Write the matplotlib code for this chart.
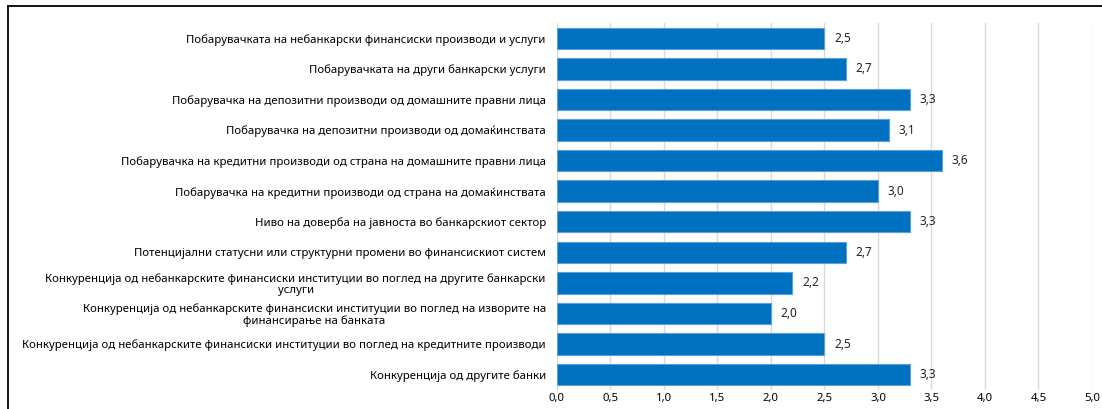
import matplotlib.pyplot as plt
from matplotlib.lines import Line2D
from matplotlib.ticker import FuncFormatter

plt.rcParams['font.family'] = ['Noto Sans', 'DejaVu Sans']

# фактори, од горе надолу
kategorii = [
    'Побарувачката на небанкарски финансиски производи и услуги',
    'Побарувачката на други банкарски услуги',
    'Побарувачка на депозитни производи од домашните правни лица',
    'Побарувачка на депозитни производи од домаќинствата',
    'Побарувачка на кредитни производи од страна на домашните правни лица',
    'Побарувачка на кредитни производи од страна на домаќинствата',
    'Ниво на доверба на јавноста во банкарскиот сектор',
    'Потенцијални статусни или структурни промени во финансискиот систем',
    'Конкуренција од небанкарските финансиски институции во поглед на другите банкарски\nуслуги',
    'Конкуренција од небанкарските финансиски институции во поглед на изворите на\nфинансирање на банката',
    'Конкуренција од небанкарските финансиски институции во поглед на кредитните производи',
    'Конкуренција од другите банки',
]
vrednosti = [2.5, 2.7, 3.3, 3.1, 3.6, 3.0, 3.3, 2.7, 2.2, 2.0, 2.5, 3.3]
xticks = [0, 0.5, 1, 1.5, 2, 2.5, 3, 3.5, 4, 4.5, 5]

fig = plt.figure(figsize=(11.02, 4.09), dpi=100)
ax = fig.add_axes([0.5054, 0.0465, 0.4855, 0.8973])

poz = list(range(len(kategorii)))
bars = ax.barh(poz, vrednosti, height=0.7, color='#0070C0',
               edgecolor='#5AA0DC', linewidth=0.8, zorder=3)
ax.bar_label(bars, labels=[f'{v:.1f}'.replace('.', ',') for v in vrednosti],
             padding=7, fontsize=8.5, color='#222222')

ax.set_yticks(poz)
ax.set_yticklabels(kategorii, fontsize=8.2, multialignment='center',
                   linespacing=1.0)
ax.set_ylim(len(kategorii) - 0.5, -0.5)
ax.set_xlim(0, 5)
ax.set_xticks(xticks)
ax.xaxis.set_major_formatter(FuncFormatter(lambda v, p: f'{v:.1f}'.replace('.', ',')))
ax.tick_params(axis='x', length=0, labelsize=8.2, pad=2)
ax.tick_params(axis='y', length=0, pad=8)
ax.grid(axis='x', color='#D9D9D9', linewidth=1, zorder=0)
for s in ax.spines.values():
    s.set_visible(False)

# рамка околу графиконот
fig.add_artist(Line2D([8 / 1102, 1.1], [1 - 6 / 409] * 2, transform=fig.transFigure,
                      color='black', linewidth=1.3))
fig.add_artist(Line2D([8 / 1102] * 2, [1 - 6 / 409, -0.1], transform=fig.transFigure,
                      color='black', linewidth=1.3))

fig.savefig('out.png', dpi=100)
